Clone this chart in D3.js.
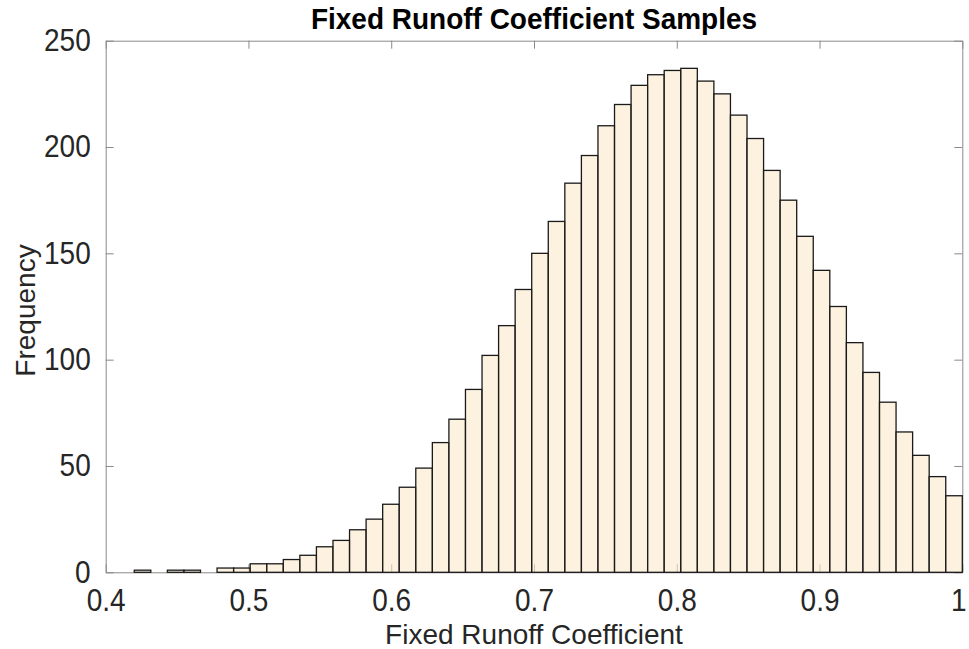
<!DOCTYPE html>
<html>
<head>
<meta charset="utf-8">
<script src="https://cdn.jsdelivr.net/npm/d3@7"></script>
<style>
  body { margin: 0; background: #fff; }
  text { font-family: "Liberation Sans", Arial, sans-serif; fill: #262626; }
</style>
</head>
<body>
<div id="chart"></div>
<script>
// histogram bin edges (51 edges -> 50 bins)
const binEdges = [0.4200, 0.4316, 0.4432, 0.4548, 0.4664, 0.4780, 0.4896, 0.5012, 0.5128, 0.5244,
    0.5360, 0.5476, 0.5592, 0.5708, 0.5824, 0.5940, 0.6056, 0.6172, 0.6288, 0.6404,
    0.6520, 0.6636, 0.6752, 0.6868, 0.6984, 0.7100, 0.7216, 0.7332, 0.7448, 0.7564,
    0.7680, 0.7796, 0.7912, 0.8028, 0.8144, 0.8260, 0.8376, 0.8492, 0.8608, 0.8724,
    0.8840, 0.8956, 0.9072, 0.9188, 0.9304, 0.9420, 0.9536, 0.9652, 0.9768, 0.9884, 1.0000];
const counts = [1, 0, 1, 1, 0, 2, 2, 4, 4, 6,
    8, 12, 15, 20, 25, 32, 40, 49, 61, 72,
    86, 102, 116, 133, 150, 165, 183, 196, 210, 220,
    229, 234, 236, 237, 231, 225, 215, 204, 189, 175,
    158, 142, 125, 108, 94, 80, 66, 55, 45, 36];
const xTicks = [0.4, 0.5, 0.6, 0.7, 0.8, 0.9, 1];
const yTicks = [0, 50, 100, 150, 200, 250];

const titleText = "Fixed Runoff Coefficient Samples";
const xLabel = "Fixed Runoff Coefficient";
const yLabel = "Frequency";

const totalW = 969, totalH = 649;
const margin = { top: 40.7, right: 6.7, bottom: 76.7, left: 105.7 };
const width = totalW - margin.left - margin.right;
const height = totalH - margin.top - margin.bottom;

const bins = counts.map((c, i) => ({ x0: binEdges[i], x1: binEdges[i + 1], n: c }));

const svg = d3.select("#chart").append("svg")
    .attr("width", totalW)
    .attr("height", totalH);

const g = svg.append("g")
    .attr("transform", `translate(${margin.left},${margin.top})`);

const x = d3.scaleLinear().domain([0.4, 1]).range([0, width]);
const y = d3.scaleLinear().domain([0, 250]).range([height, 0]);

const axisColor = "#8a8a8a";
const stretch = 1.1; // reference glyphs are a bit taller than wide

// axes first (MATLAB draws ticks under the bars)
const xAxis = g.append("g")
    .attr("transform", `translate(0,${height})`)
    .call(d3.axisBottom(x).tickValues(xTicks).tickFormat(d3.format("")).tickSizeInner(-8).tickSizeOuter(0).tickPadding(15));
const yAxis = g.append("g")
    .call(d3.axisLeft(y).tickValues(yTicks).tickSizeInner(-8).tickSizeOuter(0).tickPadding(15));
const topAxis = g.append("g")
    .call(d3.axisTop(x).tickValues(xTicks).tickFormat("").tickSizeInner(-8).tickSizeOuter(0));
const rightAxis = g.append("g")
    .attr("transform", `translate(${width},0)`)
    .call(d3.axisRight(y).tickValues(yTicks).tickFormat("").tickSizeInner(-8).tickSizeOuter(0));

[xAxis, yAxis, topAxis, rightAxis].forEach(a => {
    a.select(".domain").attr("stroke", axisColor).attr("stroke-width", 1);
    a.selectAll(".tick line").attr("stroke", axisColor).attr("stroke-width", 1);
    a.selectAll(".tick text")
        .style("font-size", "28px")
        .style("font-family", "'Liberation Sans', Arial, sans-serif")
        .attr("fill", "#262626")
        .attr("transform", `scale(1,${stretch})`);
});

// keep the last x label inside the window
xAxis.selectAll(".tick text").filter(d => d === 1).attr("dx", -4);

// bars
g.selectAll(".bar")
    .data(bins)
    .enter()
    .append("rect")
    .attr("class", "bar")
    .attr("x", d => x(d.x0))
    .attr("y", d => y(d.n))
    .attr("width", d => x(d.x1) - x(d.x0))
    .attr("height", d => y(0) - y(d.n))
    .attr("fill", "#fce9cb")
    .attr("fill-opacity", 0.6)
    .attr("stroke", "#1a1a1a")
    .attr("stroke-width", 1.3);

// title and labels
svg.append("text")
    .attr("transform", `translate(${margin.left + width / 2},29) scale(1,1.05)`)
    .attr("text-anchor", "middle")
    .style("font-size", "28px")
    .style("font-weight", "bold")
    .style("fill", "#000")
    .text(titleText);

svg.append("text")
    .attr("x", margin.left + width / 2)
    .attr("y", 644)
    .attr("text-anchor", "middle")
    .style("font-size", "28px")
    .text(xLabel);

svg.append("text")
    .attr("transform", `translate(35,${margin.top + height / 2 + 4}) rotate(-90)`)
    .attr("text-anchor", "middle")
    .style("font-size", "28px")
    .text(yLabel);
</script>
</body>
</html>
